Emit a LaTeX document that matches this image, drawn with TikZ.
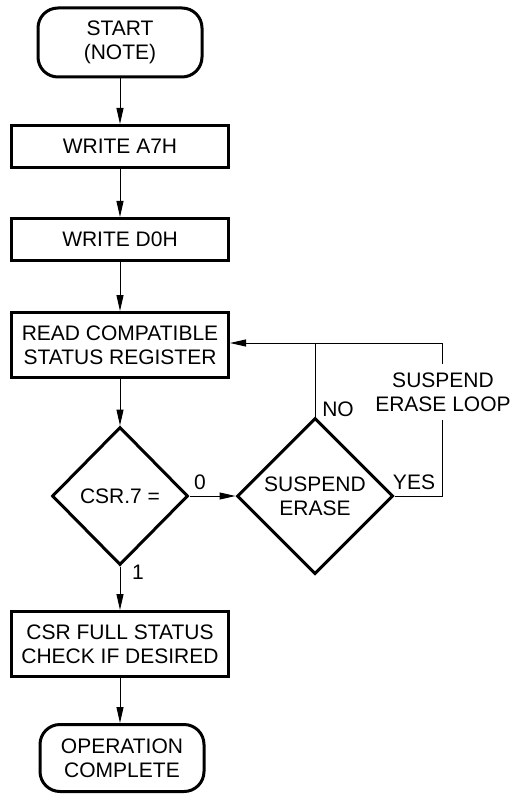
\documentclass[tikz,border=0pt]{standalone}
\usepackage{fontspec}
\setmainfont{Liberation Sans}
\usetikzlibrary{shapes.geometric,arrows.meta}
\begin{document}
\begin{tikzpicture}[x=1pt,y=-1pt,
  txt/.style={font=\fontsize{21}{24}\selectfont, align=center},
  box/.style={txt, draw, line width=3pt, minimum width=217pt, minimum height=42pt, inner sep=0pt},
  term/.style={txt, draw, line width=3pt, rounded corners=20pt, minimum width=164pt, minimum height=69pt, inner sep=0pt},
  dec/.style={txt, draw, diamond, line width=3pt, inner sep=0pt},
  conn/.style={line width=1pt, -{Triangle[length=16pt,width=7pt]}},
  plain/.style={line width=1pt},
  lbl/.style={txt}
]
\useasboundingbox (0,0) rectangle (512,794);
\node[term] (start) at (120,42.5) {START\\(NOTE)};
\node[box] (a7) at (120,146.5) {WRITE A7H};
\node[box] (d0) at (120,239.5) {WRITE D0H};
\node[box, minimum height=65pt] (read) at (120,345) {READ COMPATIBLE\\STATUS REGISTER};
\node[dec, minimum width=136pt, minimum height=138pt] (csr) at (120,496) {CSR.7 =};
\node[dec, minimum width=156pt, minimum height=156pt] (se) at (315,496) {SUSPEND\\ERASE};
\node[box, minimum height=65pt] (full) at (120,644) {CSR FULL STATUS\\CHECK IF DESIRED};
\node[term, minimum height=67pt] (done) at (122,758) {OPERATION\\COMPLETE};

\coordinate (j) at (315,343);
\coordinate (c) at (442,343);

\draw[conn] (start) -- (a7);
\draw[conn] (a7) -- (d0);
\draw[conn] (d0) -- (read);
\draw[conn] (read) -- (csr);
\draw[conn] (csr.south) -- (full.north);
\draw[conn] (full) -- (done.north -| full.south);
\draw[conn] (csr.east) -- (se.west);
\draw[plain] (se.north) -- (j);
\draw[plain] (se.east) -| (c) -- (j);
\draw[conn] (j) -- (read.east |- j);

\node[lbl, fill=white, inner xsep=1pt, inner ysep=9pt] (loop) at (443,392) {SUSPEND\\ERASE LOOP};
\node[lbl] (no) at (338,409) {NO};
\node[lbl] (yes) at (414,482) {YES};
\node[lbl] (zero) at (200,482) {0};
\node[lbl] (one) at (138,572) {1};
\end{tikzpicture}
\end{document}
